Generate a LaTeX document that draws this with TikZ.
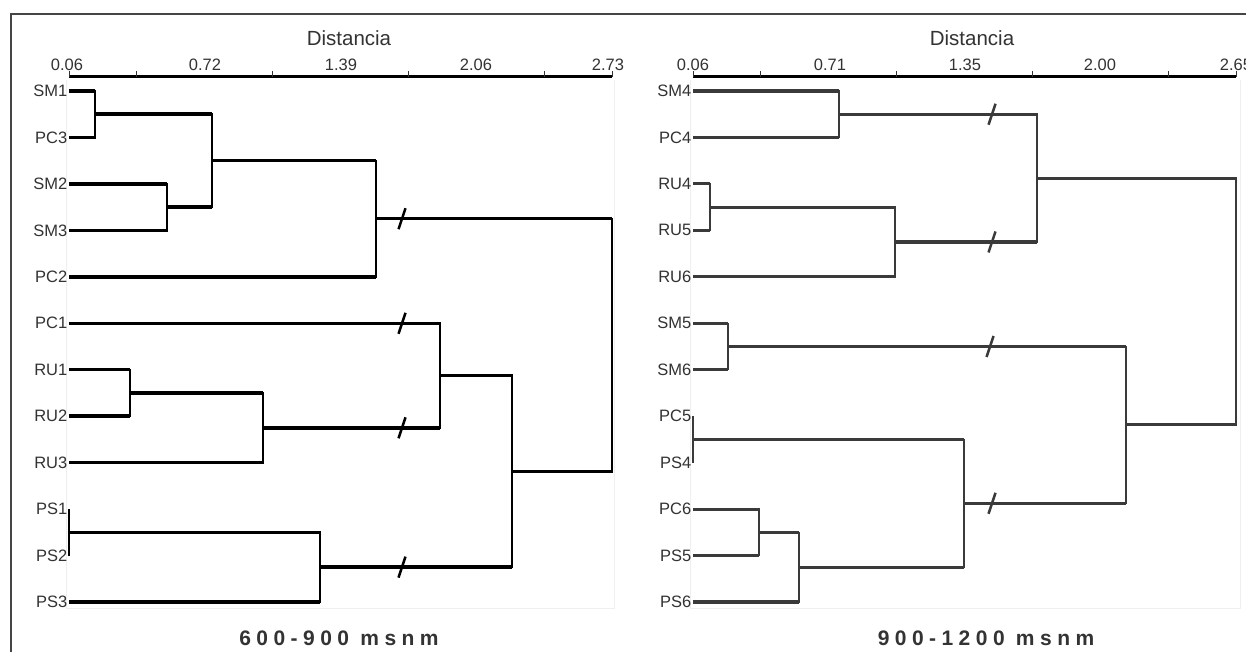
\documentclass[tikz,border=0pt]{standalone}
\usepackage{fontspec}
\setmainfont{Liberation Sans}
\newfontfamily\titlefont[LetterSpace=26]{Liberation Sans}
\usetikzlibrary{calc}
\definecolor{txt}{HTML}{333333}
\definecolor{frm}{HTML}{454545}
\definecolor{rline}{HTML}{3A3A3A}
\definecolor{faint}{HTML}{EFEFEF}
\newcommand{\mergeit}[5]{%
  \draw[#4] (#1) -- (#1 -| #3);
  \draw[#4] (#2) -- (#2 -| #3);
  \draw[#5] (#1 -| #3) -- (#2 -| #3);}
\begin{document}
\begin{tikzpicture}[x=1pt,y=-1pt,
  leaf/.style={anchor=east,inner sep=1.5pt,text=txt,font=\fontsize{16.5}{19}\selectfont},
  ticklab/.style={anchor=base,inner sep=0pt,text=txt,font=\fontsize{16.5}{19}\selectfont},
  axtitle/.style={anchor=base,inner sep=0pt,text=txt,font=\fontsize{20.5}{24}\selectfont},
  paneltitle/.style={anchor=base,inner sep=0pt,text=txt,font=\titlefont\bfseries\fontsize{21}{24}\selectfont},
  axisline/.style={line width=3pt,black},
  tickmark/.style={line width=1pt,txt},
  lhz/.style={line width=3.5pt,black},
  lvt/.style={line width=2.3pt,black,line cap=rect},
  lvz/.style={line width=1.6pt,black},
  rhz/.style={line width=3.1pt,rline},
  rvt/.style={line width=1.5pt,rline,line cap=rect},
  rvz/.style={line width=1.5pt,rline},
  lbrk/.style={line width=2.5pt,black},
  rbrk/.style={line width=2.5pt,rline},
  framebox/.style={line width=2.3pt,frm},
  plotarea/.style={line width=0.8pt,faint}]
\useasboundingbox (0,0) rectangle (1246,652);
\fill[white] (0,0) rectangle (1246,652);

% outer frame (open at right and bottom)
\draw[framebox] (11,670) -- (11,14) -- (1270,14);

% faint plot areas
\draw[plotarea] (66,80) -- (66,608) -- (614,608) -- (614,80);
\draw[plotarea] (690,80) -- (690,608) -- (1240,608) -- (1240,80);

% ---------------- left axis ----------------
\node[axtitle] (distL) at (349,46) {Distancia};
\coordinate (axL0) at (69,77);
\coordinate (axL1) at (612,77);
\draw[axisline] (axL0) -- (axL1);
\foreach \k in {0,1,3,5,7,8} {\draw[tickmark] ({69+67.875*\k},77) -- ({69+67.875*\k},71);}
\node[ticklab] (tL1) at (67,71) {0.06};
\node[ticklab] (tL2) at (205,71) {0.72};
\node[ticklab] (tL3) at (341,71) {1.39};
\node[ticklab] (tL4) at (476,71) {2.06};
\node[ticklab] (tL5) at (608,71) {2.73};

% ---------------- right axis ----------------
\node[axtitle] (distR) at (972,46) {Distancia};
\coordinate (axR0) at (693,77);
\coordinate (axR1) at (1236,77);
\draw[axisline] (axR0) -- (axR1);
\foreach \k in {0,1,3,5,7,8} {\draw[tickmark] ({693+67.875*\k},77) -- ({693+67.875*\k},71);}
\node[ticklab] (tR1) at (693,71) {0.06};
\node[ticklab] (tR2) at (830,71) {0.71};
\node[ticklab] (tR3) at (965,71) {1.35};
\node[ticklab] (tR4) at (1100,71) {2.00};
\node[ticklab] (tR5) at (1236,71) {2.65};

% ---------------- left leaves ----------------
\node[leaf] (SM1) at (69,91) {SM1};
\node[leaf] (PC3) at (69,137.5) {PC3};
\node[leaf] (SM2) at (69,183.9) {SM2};
\node[leaf] (SM3) at (69,230.4) {SM3};
\node[leaf] (PC2) at (69,276.8) {PC2};
\node[leaf] (PC1) at (69,323.3) {PC1};
\node[leaf] (RU1) at (69,369.7) {RU1};
\node[leaf] (RU2) at (69,416.2) {RU2};
\node[leaf] (RU3) at (69,462.6) {RU3};
\node[leaf] (PS1) at (69,509.1) {PS1};
\node[leaf] (PS2) at (69,555.5) {PS2};
\node[leaf] (PS3) at (69,602) {PS3};

\coordinate (a1) at (95,114.25);
\coordinate (a2) at (167,207.15);
\coordinate (a3) at (212,160.7);
\coordinate (a4) at (376,218.75);
\coordinate (a5) at (130,392.95);
\coordinate (a6) at (263,427.8);
\coordinate (a7) at (440,375.55);
\coordinate (a8) at (69,532.3);
\coordinate (a9) at (320,567.15);
\coordinate (a10) at (512,471.35);
\coordinate (a11) at (612,345.05);

\mergeit{SM1.east}{PC3.east}{a1}{lhz}{lvt}
\mergeit{SM2.east}{SM3.east}{a2}{lhz}{lvt}
\mergeit{a1}{a2}{a3}{lhz}{lvt}
\mergeit{a3}{PC2.east}{a4}{lhz}{lvt}
\mergeit{RU1.east}{RU2.east}{a5}{lhz}{lvt}
\mergeit{a5}{RU3.east}{a6}{lhz}{lvt}
\mergeit{PC1.east}{a6}{a7}{lhz}{lvt}
\mergeit{PS1.east}{PS2.east}{a8}{lhz}{lvz}
\mergeit{a8}{PS3.east}{a9}{lhz}{lvt}
\mergeit{a7}{a9}{a10}{lhz}{lvt}
\mergeit{a4}{a10}{a11}{lhz}{lvt}

% left break marks
\coordinate (bl1) at (402,218.75);
\coordinate (bl2) at (402,323.3);
\coordinate (bl3) at (402,427.8);
\coordinate (bl4) at (402,567.15);
\foreach \b in {bl1,bl2,bl3,bl4} {\draw[lbrk] ([shift={(3.5,-10.5)}]\b) -- ([shift={(-3.5,10.5)}]\b);}

% ---------------- right leaves ----------------
\node[leaf] (SM4) at (693,91) {SM4};
\node[leaf] (PC4) at (693,137.5) {PC4};
\node[leaf] (RU4) at (693,183.9) {RU4};
\node[leaf] (RU5) at (693,230.4) {RU5};
\node[leaf] (RU6) at (693,276.8) {RU6};
\node[leaf] (SM5) at (693,323.3) {SM5};
\node[leaf] (SM6) at (693,369.7) {SM6};
\node[leaf] (PC5) at (693,416.2) {PC5};
\node[leaf] (PS4) at (693,462.6) {PS4};
\node[leaf] (PC6) at (693,509.1) {PC6};
\node[leaf] (PS5) at (693,555.5) {PS5};
\node[leaf] (PS6) at (693,602) {PS6};

\coordinate (b1) at (839,114.25);
\coordinate (b2) at (710,207.15);
\coordinate (b3) at (895,241.98);
\coordinate (b4) at (1037,178.1);
\coordinate (b5) at (728,346.5);
\coordinate (b6) at (693,439.4);
\coordinate (b7) at (759,532.3);
\coordinate (b8) at (799,567.15);
\coordinate (b9) at (964,503.3);
\coordinate (b10) at (1126,424.9);
\coordinate (b11) at (1236,301.5);

\mergeit{SM4.east}{PC4.east}{b1}{rhz}{rvt}
\mergeit{RU4.east}{RU5.east}{b2}{rhz}{rvt}
\mergeit{b2}{RU6.east}{b3}{rhz}{rvt}
\mergeit{b1}{b3}{b4}{rhz}{rvt}
\mergeit{SM5.east}{SM6.east}{b5}{rhz}{rvt}
\mergeit{PC5.east}{PS4.east}{b6}{rhz}{rvz}
\mergeit{PC6.east}{PS5.east}{b7}{rhz}{rvt}
\mergeit{b7}{PS6.east}{b8}{rhz}{rvt}
\mergeit{b6}{b8}{b9}{rhz}{rvt}
\mergeit{b5}{b9}{b10}{rhz}{rvt}
\mergeit{b4}{b10}{b11}{rhz}{rvt}

% right break marks
\coordinate (br1) at (992,114.25);
\coordinate (br2) at (992,241.98);
\coordinate (br3) at (990,346.5);
\coordinate (br4) at (992,503.3);
\foreach \b in {br1,br2,br3,br4} {\draw[rbrk] ([shift={(3.5,-10.5)}]\b) -- ([shift={(-3.5,10.5)}]\b);}

% panel titles
\node[paneltitle] (titL) at (339,645) {600-900 msnm};
\node[paneltitle] (titR) at (986,645) {900-1200 msnm};
\end{tikzpicture}
\end{document}
